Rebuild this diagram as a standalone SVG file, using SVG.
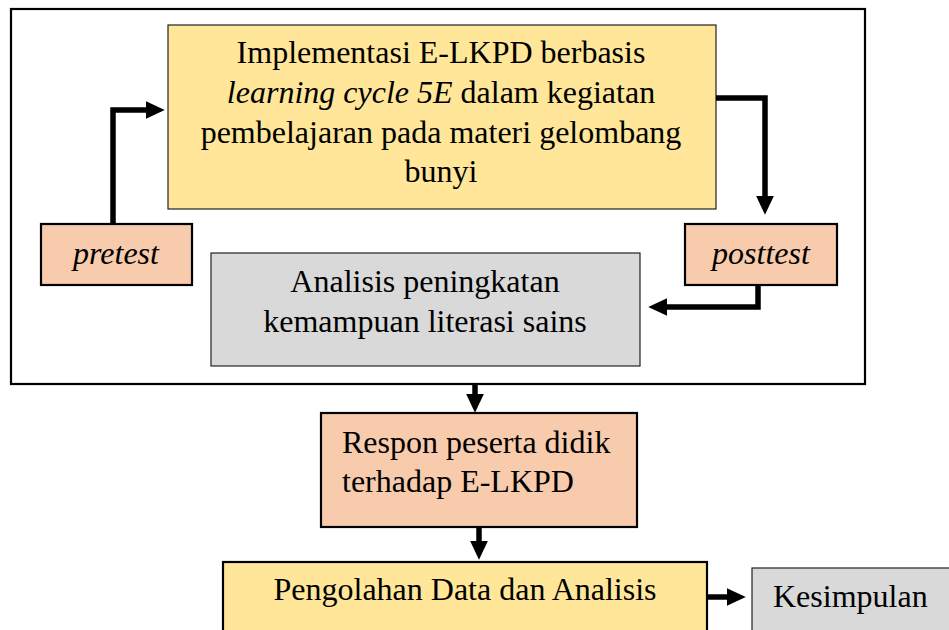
<svg xmlns="http://www.w3.org/2000/svg" width="949" height="630" viewBox="0 0 949 630">
<style>
text{font-family:"Liberation Serif","Times New Roman",serif;font-size:32px;fill:#000}
.it{font-style:italic}
.yel{fill:#FFE699}
.sal{fill:#F8CBAD}
.gry{fill:#D9D9D9}
.thick{stroke:#000;stroke-width:2.2}
.thin{stroke:#222;stroke-width:1.2}
.conn{fill:none;stroke:#000;stroke-width:5.5;stroke-linejoin:miter}
</style>
<defs>
<marker id="ah" markerUnits="userSpaceOnUse" markerWidth="20" markerHeight="20" viewBox="0 -9 18 18" refX="1" refY="0" orient="auto">
<path d="M0,-8 L17,0 L0,8 z" fill="#000"/>
</marker>
</defs>
<rect x="0" y="0" width="949" height="630" fill="#fff"/>
<g id="outer-frame"><rect x="11" y="9" width="854" height="375" fill="none" class="thick"/></g>
<g id="implementasi">
<rect x="168" y="25" width="548" height="184" class="yel thin"/>
<text x="441" y="63" text-anchor="middle">Implementasi E-LKPD berbasis</text>
<text x="441" y="103" text-anchor="middle"><tspan class="it">learning cycle 5E</tspan> dalam kegiatan</text>
<text x="441" y="143" text-anchor="middle">pembelajaran pada materi gelombang</text>
<text x="441" y="182" text-anchor="middle">bunyi</text>
</g>
<g id="pretest">
<rect x="41" y="224" width="151" height="61" class="sal thick"/>
<text x="116" y="264" text-anchor="middle" class="it">pretest</text>
</g>
<g id="posttest">
<rect x="685" y="224" width="152" height="61" class="sal thick"/>
<text x="761" y="264" text-anchor="middle" class="it">posttest</text>
</g>
<g id="analisis">
<rect x="211" y="253" width="429" height="113" class="gry thin"/>
<text x="425" y="292" text-anchor="middle">Analisis peningkatan</text>
<text x="425" y="332" text-anchor="middle">kemampuan literasi sains</text>
</g>
<g id="respon">
<rect x="321" y="413" width="316" height="114" class="sal thick"/>
<text x="342" y="453">Respon peserta didik</text>
<text x="342" y="492">terhadap E-LKPD</text>
</g>
<g id="pengolahan">
<rect x="223" y="562" width="484" height="80" class="yel thick"/>
<text x="465" y="600" text-anchor="middle">Pengolahan Data dan Analisis</text>
</g>
<g id="kesimpulan">
<rect x="752" y="568" width="210" height="80" class="gry thin"/>
<text x="773" y="607">Kesimpulan</text>
</g>
<g id="connectors">
<path class="conn" d="M113,224 V110 H147" marker-end="url(#ah)"/>
<path class="conn" d="M716,98 H765 V197" marker-end="url(#ah)"/>
<path class="conn" d="M758,285 V307 H666" marker-end="url(#ah)"/>
<path class="conn" d="M475,385 V395" marker-end="url(#ah)"/>
<path class="conn" d="M479,527 V542" marker-end="url(#ah)"/>
<path class="conn" d="M707,597 H728" marker-end="url(#ah)"/>
</g>
</svg>
